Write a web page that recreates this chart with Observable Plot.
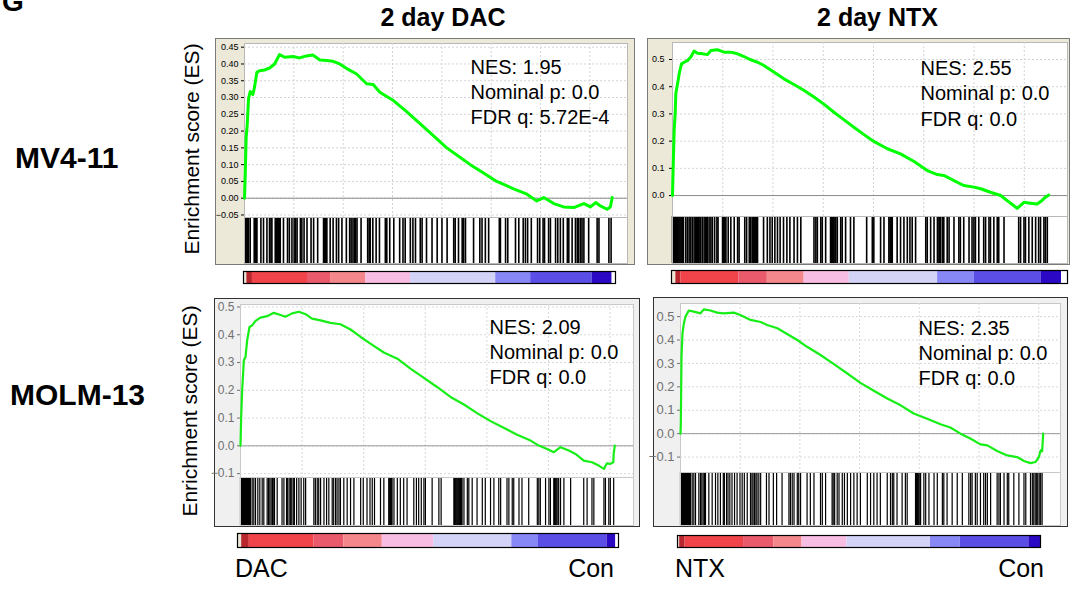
<!DOCTYPE html>
<html><head><meta charset="utf-8">
<script src="https://cdn.jsdelivr.net/npm/d3@7"></script>
<script src="https://cdn.jsdelivr.net/npm/@observablehq/plot@0.6"></script>
<style>
body{margin:0;background:#fff;font-family:"Liberation Sans",Arial,sans-serif;}
#fig{position:relative;width:1074px;height:594px;overflow:hidden;background:#fff;}
.abs{position:absolute;box-sizing:border-box;}
svg{overflow:visible;}
</style></head><body><div id="fig"></div>
<script>
// ---------------- DATA ----------------
const columnTitles = ["2 day DAC", "2 day NTX"];
const rowLabels = ["MV4-11", "MOLM-13"];
const phenotypeLabels = [["DAC", "Con"], ["NTX", "Con"]];
const yAxisTitle = "Enrichment score (ES)";
const panelLetter = "G";

const nesValues = ["1.95", "2.55", "2.09", "2.35"];
const nominalP = ["0.0", "0.0", "0.0", "0.0"];
const fdrQ = ["5.72E-4", "0.0", "0.0", "0.0"];

// ranked list sizes (genes); grid every 2500 ranks
const listSizes = [18630, 18720, 15190, 15190];
const gridStep = 2500;

// running enrichment score: [position in ranked list (% of list), ES]
const esMV411_DAC = [[0,0],[0.18,0.062],[0.45,0.181],[0.73,0.216],[1.09,0.296],[1.55,0.318],[2.27,0.309],[2.73,0.331],[3.36,0.375],[4.09,0.380],[5.45,0.382],[6.82,0.388],[8.18,0.400],[9.55,0.428],[10.9,0.420],[13.2,0.422],[15.0,0.418],[16.8,0.424],[18.6,0.427],[20.5,0.412],[22.3,0.410],[24.1,0.408],[25.9,0.400],[27.7,0.387],[30.5,0.370],[33.2,0.341],[35.0,0.339],[36.8,0.316],[40.5,0.291],[44.1,0.258],[45.9,0.240],[50.0,0.200],[55.0,0.150],[58.6,0.122],[61.4,0.100],[65.0,0.075],[68.6,0.050],[73.2,0.028],[76.8,0.012],[79.5,-0.008],[81.4,0.002],[84.1,-0.016],[86.8,-0.026],[89.5,-0.028],[92.3,-0.016],[94.1,-0.026],[95.5,-0.013],[96.8,-0.023],[98.6,-0.033],[99.5,-0.026],[100,0.002]];
const esMV411_NTX = [[0,0],[0.18,0.104],[0.44,0.239],[0.71,0.30],[0.88,0.374],[1.33,0.41],[1.77,0.447],[2.39,0.484],[3.10,0.49],[3.98,0.496],[4.87,0.509],[5.75,0.531],[6.64,0.523],[7.96,0.521],[9.29,0.518],[10.2,0.533],[11.9,0.536],[13.7,0.527],[15.5,0.527],[17.3,0.521],[19.0,0.511],[20.8,0.499],[22.6,0.490],[24.3,0.478],[27.0,0.453],[29.6,0.429],[32.3,0.408],[35.0,0.386],[37.6,0.362],[40.3,0.335],[42.9,0.306],[45.6,0.278],[48.2,0.251],[50.9,0.224],[53.5,0.199],[57.1,0.172],[60.6,0.153],[64.2,0.125],[67.7,0.092],[70.4,0.077],[72.1,0.074],[74.8,0.055],[77.4,0.037],[80.1,0.031],[81.9,0.025],[84.5,0.012],[87.2,0.0],[88.9,-0.018],[91.6,-0.047],[93.4,-0.025],[95.1,-0.028],[96.9,-0.031],[98.2,-0.018],[99.1,-0.006],[100,0.002]];
const esMOLM13_DAC = [[0,0],[0.18,0.103],[0.45,0.20],[0.89,0.308],[1.34,0.32],[1.78,0.38],[2.40,0.428],[3.12,0.434],[4.01,0.45],[5.34,0.462],[7.12,0.467],[8.90,0.479],[10.7,0.471],[12.0,0.465],[13.8,0.477],[15.6,0.483],[17.4,0.474],[19.1,0.458],[21.4,0.452],[24.0,0.443],[26.7,0.438],[29.4,0.419],[32.1,0.392],[34.7,0.368],[38.3,0.336],[41.9,0.314],[45.4,0.278],[49.0,0.245],[52.5,0.212],[56.1,0.176],[59.7,0.149],[63.2,0.118],[66.8,0.089],[70.3,0.065],[73.9,0.040],[77.5,0.019],[79.7,0.001],[81.9,-0.011],[83.7,-0.023],[85.5,-0.005],[87.7,-0.017],[89.5,-0.029],[91.7,-0.053],[93.9,-0.059],[95.7,-0.071],[97.1,-0.083],[97.9,-0.063],[98.8,-0.065],[99.6,-0.059],[99.7,-0.029],[100,0.001]];
const esMOLM13_NTX = [[0,0],[0.09,0.043],[0.28,0.329],[0.55,0.429],[0.92,0.471],[1.38,0.50],[2.30,0.526],[3.68,0.521],[5.51,0.514],[6.43,0.531],[8.27,0.526],[10.1,0.517],[11.9,0.514],[14.7,0.517],[16.5,0.507],[19.3,0.486],[22.1,0.477],[23.9,0.464],[26.7,0.45],[29.4,0.426],[32.2,0.40],[34.9,0.371],[38.6,0.336],[42.3,0.297],[46.0,0.257],[49.6,0.217],[53.3,0.183],[57.0,0.15],[60.7,0.121],[64.3,0.086],[68.0,0.064],[71.7,0.04],[74.4,0.026],[77.2,0.0],[79.9,-0.021],[82.7,-0.046],[84.6,-0.05],[87.3,-0.074],[90.1,-0.093],[92.8,-0.10],[94.7,-0.117],[96.5,-0.126],[97.9,-0.121],[98.8,-0.10],[99.3,-0.071],[99.7,-0.076],[100,0]];

// gene set hit positions (% of ranked list)
const hitsMV411_DAC = [0.19,0.4,0.65,0.9,1.09,1.55,2.64,2.8,3.0,3.2,3.38,4.46,5.17,6.10,6.80,7.19,7.46,8.36,8.6,8.82,9.05,9.25,9.5,9.72,10.6,11.7,12.2,12.9,13.5,13.9,14.3,15.2,15.6,16.2,17.0,18.1,18.8,19.9,21.5,21.8,22.0,22.2,22.4,23.3,24.1,25.0,25.6,26.5,27.7,28.6,29.0,29.5,29.9,30.2,30.6,31.7,33.5,33.9,34.2,34.9,35.8,36.7,38.3,38.7,39.5,40.6,42.2,43.1,43.7,45.1,45.8,46.5,47.8,48.3,49.5,51.0,52.4,53.7,55.1,56.9,57.3,58.2,59.2,59.6,60.1,62.3,64.0,64.6,65.5,66.4,69.3,69.6,71.0,71.6,73.7,74.6,75.8,76.4,77.0,78.0,79.7,80.3,81.2,81.6,82.7,83.2,84.6,85.2,85.9,86.7,87.8,88.2,89.1,90.0,90.5,90.9,91.4,91.8,92.3,93.6,95.9,96.4,99.1,99.7];
const hitsMV411_NTX = [0,0.25,0.5,0.75,1.0,1.25,1.5,1.75,2.0,2.25,2.5,2.75,2.92,3.54,3.98,4.42,4.87,5.31,5.75,6.19,6.4,6.64,6.85,7.08,7.52,7.96,8.41,8.85,9.05,9.29,9.73,10.2,10.6,11.2,11.8,12.1,13.3,13.5,13.7,13.95,14.2,14.8,15.5,16.4,17.3,17.7,19.2,19.7,20.4,20.8,21.2,21.5,21.7,21.9,22.1,22.4,22.6,24.2,25.2,25.9,26.5,27.2,27.9,28.6,29.5,30.4,31.2,32.3,33.2,34.1,37.6,38.1,38.5,39.4,39.8,40.7,42.0,42.3,42.5,42.7,42.9,43.2,43.4,43.8,44.7,45.1,46.0,47.3,48.2,51.6,53.1,53.5,55.3,56.2,57.5,57.8,58.0,58.2,58.4,59.7,60.6,61.5,62.4,63.1,63.7,64.6,67.3,67.7,68.6,69.5,70.4,70.8,71.0,71.2,71.7,72.1,73.0,73.5,74.8,76.1,76.5,77.4,78.8,79.6,80.1,80.5,81.4,82.7,83.2,84.1,84.5,85.4,86.3,86.7,88.1,92.0,92.5,93.4,93.8,94.7,95.6,96.5,97.3,97.8,98.7,99.1,99.6];
const hitsMOLM13_DAC = [0,0.27,0.53,0.80,1.07,1.34,1.60,1.87,2.14,2.40,2.67,3.12,3.56,4.01,4.63,5.16,5.79,6.23,7.12,7.48,7.84,8.19,8.55,8.90,9.08,9.80,11.1,11.6,12.3,12.6,13.0,13.4,13.7,14.1,14.4,15.0,15.6,16.2,16.9,17.4,19.6,20.0,20.5,20.9,21.4,22.3,23.0,23.6,24.5,24.9,25.4,25.8,26.3,26.7,27.6,28.5,29.4,30.3,32.1,32.8,33.8,34.6,35.2,35.8,37.4,38.3,39.6,39.85,40.1,40.3,40.5,41.0,41.9,42.7,43.6,44.5,46.3,47.0,47.6,48.3,49.0,49.4,51.2,53.0,53.6,57.0,57.2,57.4,57.65,57.9,58.1,58.3,58.55,58.8,59.0,59.2,59.7,60.6,61.0,61.9,63.2,64.6,65.4,66.8,67.7,69.0,69.5,71.2,71.7,72.6,73.0,74.4,75.2,77.0,79.3,79.7,80.1,81.5,82.4,82.8,83.7,83.9,84.1,84.35,84.6,85.0,85.5,86.4,88.2,91.7,92.6,93.9,94.4,97.1,97.5,98.4,98.8,99.7];
const hitsMOLM13_NTX = [0,0.28,0.55,0.83,1.10,1.38,1.65,1.93,2.21,2.48,2.76,3.22,3.68,4.14,5.06,5.51,5.88,6.25,6.62,6.89,7.81,8.73,9.65,10.3,11.0,11.8,12.1,12.7,13.1,13.6,14.2,14.9,15.6,16.4,17.0,17.6,18.4,19.3,19.7,20.0,20.4,20.8,21.1,21.6,22.1,23.7,24.4,25.6,26.5,28.0,29.9,30.3,30.8,31.3,32.2,32.6,33.1,34.9,35.8,36.8,38.6,39.1,40.0,41.8,42.1,42.5,43.2,43.7,44.6,45.2,46.0,46.9,47.8,48.7,49.6,51.5,52.4,53.3,54.2,55.1,57.0,57.9,58.4,58.8,59.7,61.1,62.0,62.5,64.8,65.1,65.3,65.5,65.7,66.0,66.2,67.1,67.6,68.5,69.9,70.8,72.2,72.6,73.5,74.9,76.3,77.7,79.5,80.0,80.4,81.3,81.8,82.7,83.6,84.1,84.6,85.5,87.3,87.8,88.2,89.2,90.1,90.5,91.9,93.3,94.7,95.2,96.5,97.0,97.4,97.8,98.2,98.5,98.9,99.3,99.7];

// ranked-list metric colour bar: [from %, to %, metric class]
const metricClasses = ["edge","darkred","red","rose","salmon","pink","lavender","periwinkle","blue","darkblue","white"];
const barMV411_DAC = [[0,0.9,"edge"],[0.9,2.4,"darkred"],[2.4,17.2,"red"],[17.2,23.4,"rose"],[23.4,32.9,"salmon"],[32.9,44.9,"pink"],[44.9,67.8,"lavender"],[67.8,77.2,"periwinkle"],[77.2,93.7,"blue"],[93.7,99.1,"darkblue"],[99.1,100,"white"]];
const barMV411_NTX = [[0,1.1,"edge"],[1.1,2.4,"darkred"],[2.4,17,"red"],[17,24.2,"rose"],[24.2,33.5,"salmon"],[33.5,44.9,"pink"],[44.9,67.2,"lavender"],[67.2,76.4,"periwinkle"],[76.4,93.3,"blue"],[93.3,98.5,"darkblue"],[98.5,100,"white"]];
const barMOLM13_DAC = [[0,1.1,"edge"],[1.1,3.1,"darkred"],[3.1,20.1,"red"],[20.1,27.9,"rose"],[27.9,38,"salmon"],[38,51.5,"pink"],[51.5,72,"lavender"],[72,79,"periwinkle"],[79,97,"blue"],[97,99.3,"darkblue"],[99.3,100,"white"]];
const barMOLM13_NTX = [[0,0.6,"edge"],[0.6,2.1,"darkred"],[2.1,18.2,"red"],[18.2,26.5,"rose"],[26.5,34.3,"salmon"],[34.3,46.7,"pink"],[46.7,69.7,"lavender"],[69.7,77.9,"periwinkle"],[77.9,96.8,"blue"],[96.8,100,"darkblue"]];

// ---------------- STYLE / LAYOUT ----------------
const metricColors = ["#ece6d6","#b8262e","#f0444a","#e85a6c","#f4878c","#f8bde2","#d3d3f8","#8787f5","#5a4ee6","#2a08c4","#ffffff"];
const FONT = '"Liberation Sans", Arial, Helvetica, sans-serif';

const panels = [
  {es: esMV411_DAC, hits: hitsMV411_DAC, barData: barMV411_DAC, N: listSizes[0], stats: 0,
   frame: {l:215, t:38, r:635, b:265, bg:"#ece9d8", border:"1px solid #7a7a7a"},
   plot: {l:244, t:42.5, r:627, esB:217, hitB:263}, curveEnd: 611.7,
   barBox: {l:243, t:271, r:615, b:283},
   y: {domain:[-0.059, 0.461], ticks:d3.range(-0.05, 0.4501, 0.05), fmt: d3.format(".2f"), font:9, color:"#000", pad:3, ml:30},
   lineW: 3, green:"#00ff00", grid:"#d4d4d4", zero:"#8c8c8c", frameStroke:"#b8b8b8", hitW: 1.6, text:{dx:226, dy:12}},
  {es: esMV411_NTX, hits: hitsMV411_NTX, barData: barMV411_NTX, N: listSizes[1], stats: 1,
   frame: {l:647, t:38, r:1070, b:265, bg:"#ece9d8", border:"1px solid #7a7a7a"},
   plot: {l:672, t:42, r:1067, esB:216, hitB:263}, curveEnd: 1048.3,
   barBox: {l:671, t:270, r:1067, b:283},
   y: {domain:[-0.077, 0.5625], ticks:d3.range(0, 0.501, 0.1), fmt: d3.format(".1f"), font:9, color:"#000", pad:5, ml:30},
   lineW: 3, green:"#00ff00", grid:"#d4d4d4", zero:"#8c8c8c", frameStroke:"#b8b8b8", hitW: 1.6, text:{dx:248, dy:14.5}},
  {es: esMOLM13_DAC, hits: hitsMOLM13_DAC, barData: barMOLM13_DAC, N: listSizes[2], stats: 2,
   frame: {l:214, t:298, r:640, b:527, bg:"#f0f0f0", border:"1px solid #333"},
   plot: {l:240, t:304, r:633, esB:477, hitB:525}, curveEnd: 614.3,
   barBox: {l:237, t:533, r:618, b:547},
   y: {domain:[-0.114, 0.509], ticks:d3.range(-0.1, 0.501, 0.1), fmt: d3.format(".1f"), font:12, color:"#707070", pad:3, ml:30},
   lineW: 2.2, green:"#16ee16", grid:"#d8d8d8", zero:"#9a9a9a", frameStroke:"#c8c8c8", hitW: 1.2, text:{dx:249, dy:11}},
  {es: esMOLM13_NTX, hits: hitsMOLM13_NTX, barData: barMOLM13_NTX, N: listSizes[3], stats: 3,
   frame: {l:653, t:297, r:1068, b:527, bg:"#f0f0f0", border:"1px solid #333"},
   plot: {l:680, t:303, r:1060, esB:472, hitB:525}, curveEnd: 1042.7,
   barBox: {l:677, t:535, r:1040, b:547},
   y: {domain:[-0.166, 0.556], ticks:d3.range(-0.1, 0.501, 0.1), fmt: d3.format(".1f"), font:13, color:"#707070", pad:3, ml:32},
   lineW: 2.2, green:"#16ee16", grid:"#d8d8d8", zero:"#9a9a9a", frameStroke:"#c8c8c8", hitW: 1.2, text:{dx:238, dy:13}}
];

const fig = document.getElementById("fig");
function place(el, l, t, extra) {
  el.classList.add("abs");
  el.style.left = l + "px"; el.style.top = t + "px";
  if (extra) Object.assign(el.style, extra);
  fig.appendChild(el);
  return el;
}

for (const p of panels) {
  const fr = document.createElement("div");
  place(fr, p.frame.l, p.frame.t, {width:(p.frame.r-p.frame.l)+"px", height:(p.frame.b-p.frame.t)+"px", background:p.frame.bg, border:p.frame.border});

  const w = p.plot.r - p.plot.l;
  const hES = p.plot.esB - p.plot.t;
  const xMax = p.N * (w / (p.curveEnd - p.plot.l));
  const xDomain = [0, xMax];
  const gridX = d3.range(gridStep, xMax, gridStep);
  const rank = d => d / 100 * p.N;

  const statsText = `NES: ${nesValues[p.stats]}\nNominal p: ${nominalP[p.stats]}\nFDR q: ${fdrQ[p.stats]}`;

  const es = Plot.plot({
    width: w + p.y.ml, height: hES,
    marginLeft: p.y.ml, marginRight: 0, marginTop: 0, marginBottom: 0,
    style: {background: "transparent", color: p.y.color, fontFamily: FONT, overflow: "visible"},
    x: {domain: xDomain, axis: null},
    y: {domain: p.y.domain, axis: null},
    marks: [
      Plot.frame({fill: "white", stroke: p.frameStroke}),
      Plot.gridX(gridX, {stroke: p.grid, strokeOpacity: 1, strokeDasharray: "2,2"}),
      Plot.gridY(p.y.ticks, {stroke: p.grid, strokeOpacity: 1, strokeDasharray: "2,2"}),
      Plot.ruleY([0], {stroke: p.zero, strokeWidth: 1}),
      Plot.axisY(p.y.ticks, {tickFormat: p.y.fmt, tickSize: 3, tickPadding: p.y.pad, fontSize: p.y.font, label: null}),
      Plot.line(p.es, {x: d => rank(d[0]), y: d => d[1], stroke: p.green, strokeWidth: p.lineW, strokeLinejoin: "round"}),
      Plot.text([statsText], {frameAnchor: "top-left", dx: p.text.dx, dy: p.text.dy, lineAnchor: "top", textAnchor: "start", fontSize: 20, lineHeight: 1.27, fill: "black", fontFamily: FONT})
    ]
  });
  place(es, p.plot.l - p.y.ml, p.plot.t);

  const hits = Plot.plot({
    width: w, height: p.plot.hitB - p.plot.esB,
    margin: 0,
    style: {background: "white", overflow: "visible"},
    x: {domain: xDomain, axis: null},
    marks: [
      Plot.ruleX(p.hits, {x: d => rank(d), stroke: "black", strokeWidth: p.hitW}),
      Plot.frame({stroke: p.frameStroke})
    ]
  });
  place(hits, p.plot.l, p.plot.esB);

  const bar = Plot.plot({
    width: p.barBox.r - p.barBox.l, height: p.barBox.b - p.barBox.t,
    margin: 0,
    style: {background: "white", overflow: "visible"},
    x: {domain: [0, 100], axis: null},
    color: {type: "ordinal", domain: metricClasses, range: metricColors},
    marks: [
      Plot.barX(p.barData, {x1: d => d[0], x2: d => d[1], fill: d => d[2]}),
      Plot.frame({stroke: "black", strokeWidth: 1.2})
    ]
  });
  place(bar, p.barBox.l, p.barBox.t);
}

// ---------------- TEXT OVERLAY ----------------
const svg = d3.select(fig).append("svg")
  .attr("width", 1074).attr("height", 594)
  .style("position", "absolute").style("left", "0px").style("top", "0px")
  .style("pointer-events", "none").style("font-family", FONT);

svg.append("text").attr("x", 2).attr("y", 11).attr("font-size", 28).attr("font-weight", "bold").text(panelLetter);
svg.append("text").attr("x", 443).attr("y", 26).attr("font-size", 25).attr("font-weight", "bold").attr("text-anchor", "middle").text(columnTitles[0]);
svg.append("text").attr("x", 877.5).attr("y", 26).attr("font-size", 25).attr("font-weight", "bold").attr("text-anchor", "middle").text(columnTitles[1]);
svg.append("text").attr("x", 15).attr("y", 168).attr("font-size", 30).attr("font-weight", "bold").text(rowLabels[0]);
svg.append("text").attr("x", 10).attr("y", 405).attr("font-size", 30).attr("font-weight", "bold").text(rowLabels[1]);
svg.append("text").attr("transform", "translate(199,149) rotate(-90)").attr("font-size", 21).attr("text-anchor", "middle").text(yAxisTitle);
svg.append("text").attr("transform", "translate(197,411) rotate(-90)").attr("font-size", 21).attr("text-anchor", "middle").text(yAxisTitle);
svg.append("text").attr("x", 235).attr("y", 577).attr("font-size", 25).text(phenotypeLabels[0][0]);
svg.append("text").attr("x", 614).attr("y", 577).attr("font-size", 25).attr("text-anchor", "end").text(phenotypeLabels[0][1]);
svg.append("text").attr("x", 675).attr("y", 577).attr("font-size", 25).text(phenotypeLabels[1][0]);
svg.append("text").attr("x", 1044).attr("y", 577).attr("font-size", 25).attr("text-anchor", "end").text(phenotypeLabels[1][1]);
</script>
</body></html>
